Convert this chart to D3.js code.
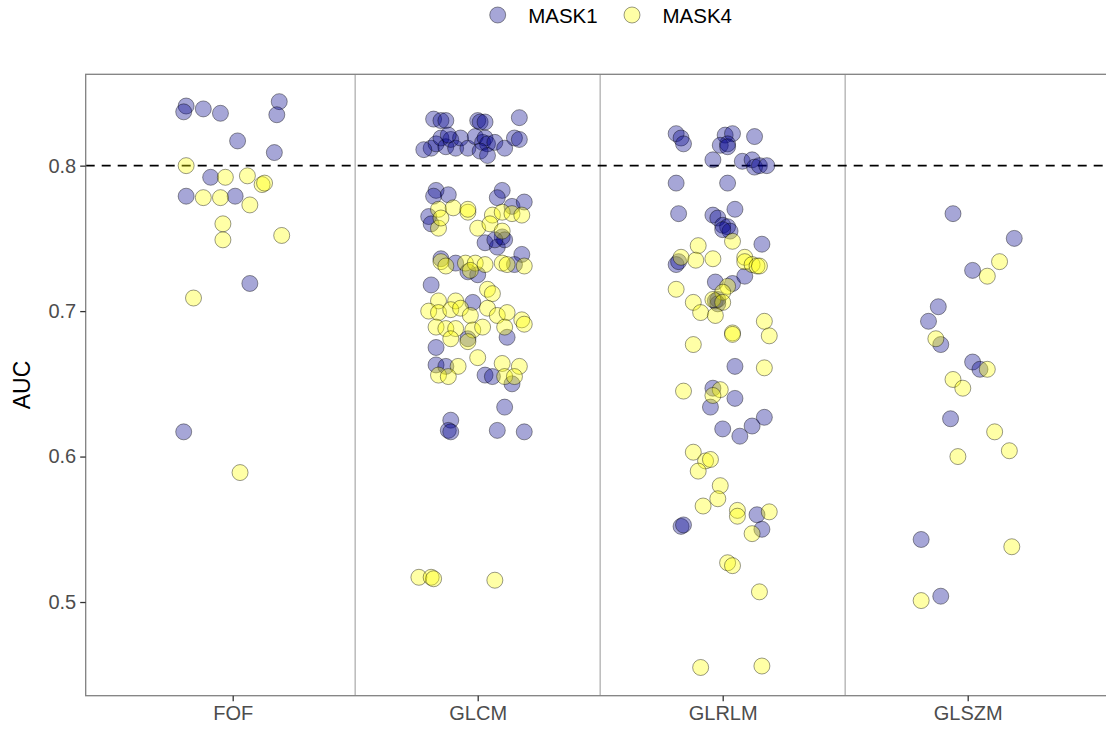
<!DOCTYPE html>
<html>
<head>
<meta charset="utf-8">
<script src="https://cdn.jsdelivr.net/npm/d3@7"></script>
<style>
  body { margin: 0; background: #fff; }
  svg { display: block; font-family: "Liberation Sans", Arial, sans-serif; }
</style>
</head>
<body>
<svg id="chart" width="1106" height="732"></svg>
<script>
// categories and groups
var categories = ["FOF", "GLCM", "GLRLM", "GLSZM"];
var masks = ["MASK1", "MASK4"];
var yTicks = [0.5, 0.6, 0.7, 0.8];
var threshold = 0.8;

// each point: [jitter (in category units), AUC]
var fofMask1 = [[-0.19,0.841],[-0.20,0.837],[-0.12,0.839],[-0.05,0.836],[0.19,0.844],[0.18,0.835],
  [0.02,0.817],[0.17,0.809],[-0.09,0.792],[-0.19,0.779],[0.01,0.779],[0.07,0.719],[-0.20,0.617]];
var fofMask4 = [[-0.19,0.800],[-0.03,0.792],[0.06,0.793],[0.12,0.787],[0.13,0.788],[-0.12,0.778],
  [-0.05,0.778],[0.07,0.773],[-0.04,0.760],[-0.04,0.749],[0.20,0.752],[-0.16,0.709],[0.03,0.589]];

var glcmMask1 = [[-0.18,0.832],[-0.15,0.831],[-0.13,0.831],[0.00,0.831],[0.01,0.830],[0.03,0.830],
  [0.17,0.833],[-0.19,0.812],[-0.17,0.815],[-0.15,0.819],[-0.13,0.813],[-0.11,0.818],[-0.09,0.812],
  [-0.07,0.819],[-0.04,0.812],[-0.01,0.820],[0.02,0.816],[0.03,0.819],[0.04,0.815],[0.01,0.810],
  [0.04,0.807],[0.07,0.816],[0.11,0.812],[0.15,0.819],[0.17,0.818],[-0.12,0.821],[-0.22,0.811],
  [-0.17,0.783],[-0.12,0.780],[-0.18,0.779],[-0.20,0.765],[-0.19,0.760],[0.10,0.783],[0.08,0.778],
  [0.14,0.772],[0.19,0.775],[0.03,0.747],[0.08,0.744],[0.10,0.751],[0.11,0.749],[0.07,0.749],
  [-0.15,0.736],[0.18,0.739],[-0.19,0.718],[-0.09,0.733],[0.00,0.725],[-0.04,0.727],[0.15,0.732],
  [-0.17,0.675],[-0.17,0.663],[-0.13,0.662],[0.03,0.656],[0.06,0.655],[0.14,0.650],[0.11,0.634],
  [-0.11,0.625],[-0.12,0.618],[-0.11,0.617],[0.08,0.618],[0.19,0.617],[-0.04,0.681],[0.12,0.682],
  [-0.02,0.706]];
var glcmMask4 = [[-0.16,0.770],[-0.10,0.771],[-0.04,0.768],[-0.04,0.770],[-0.16,0.757],[-0.15,0.764],
  [0.00,0.757],[0.06,0.766],[0.10,0.768],[0.14,0.767],[0.18,0.766],[0.05,0.760],[0.10,0.755],
  [-0.15,0.734],[-0.13,0.731],[-0.05,0.733],[-0.01,0.733],[0.03,0.732],[0.10,0.733],[0.12,0.732],
  [0.19,0.731],[-0.03,0.728],[0.04,0.715],[0.06,0.712],[-0.16,0.707],[-0.09,0.707],
  [-0.20,0.700],[-0.16,0.699],[-0.11,0.701],[-0.07,0.702],[-0.03,0.697],[0.04,0.702],[0.08,0.697],
  [0.12,0.699],[0.18,0.694],[0.19,0.691],[-0.17,0.689],[-0.13,0.688],[-0.09,0.688],[-0.02,0.687],
  [0.02,0.689],[0.11,0.689],[-0.11,0.681],[-0.04,0.679],[0.00,0.668],[-0.08,0.662],[-0.16,0.656],
  [-0.12,0.655],[0.10,0.664],[0.17,0.662],[0.11,0.655],[0.15,0.655],
  [-0.24,0.517],[-0.19,0.517],[-0.18,0.516],[0.07,0.515]];

var glrlmMask1 = [[-0.19,0.822],[-0.17,0.819],[-0.16,0.815],[0.01,0.821],[0.04,0.822],[-0.01,0.814],
  [0.02,0.815],[0.02,0.813],[0.13,0.820],[-0.04,0.804],[0.08,0.803],[0.12,0.804],[0.13,0.799],
  [0.15,0.800],[0.18,0.800],[-0.19,0.788],[0.02,0.788],[-0.18,0.767],[-0.04,0.766],[-0.02,0.764],
  [0.05,0.770],[0.00,0.759],[0.02,0.758],[0.03,0.755],[0.00,0.756],[0.16,0.746],[-0.19,0.732],
  [-0.18,0.734],[-0.03,0.720],[0.04,0.719],[0.09,0.724],[-0.03,0.707],[-0.02,0.708],[-0.02,0.705],
  [0.05,0.662],[-0.04,0.647],[-0.05,0.634],[0.05,0.640],[0.00,0.619],[0.07,0.614],[0.12,0.621],
  [0.17,0.627],[-0.17,0.552],[-0.16,0.553],[0.14,0.560],[0.16,0.550]];
var glrlmMask4 = [[0.04,0.748],[-0.10,0.745],[-0.17,0.737],[-0.11,0.735],[-0.04,0.736],[0.09,0.737],
  [0.09,0.734],[0.12,0.732],[0.14,0.731],[0.15,0.731],[-0.19,0.715],[0.02,0.717],[0.00,0.713],
  [-0.12,0.706],[-0.09,0.699],[-0.04,0.708],[0.00,0.706],[-0.03,0.697],[0.04,0.685],[0.04,0.684],
  [0.17,0.693],[0.19,0.683],[-0.12,0.677],[0.17,0.661],[-0.16,0.645],[-0.01,0.646],[-0.04,0.642],
  [-0.12,0.603],[-0.07,0.597],[-0.05,0.598],[-0.10,0.590],[-0.01,0.580],[-0.02,0.571],[-0.08,0.566],
  [0.06,0.563],[0.06,0.559],[0.19,0.562],[0.12,0.547],[0.02,0.527],[0.04,0.525],[0.15,0.507],
  [-0.09,0.455],[0.16,0.456]];

var glszmMask1 = [[-0.06,0.767],[0.19,0.750],[0.02,0.728],[-0.12,0.703],[-0.16,0.693],[-0.11,0.677],
  [0.02,0.665],[0.05,0.660],[-0.07,0.626],[-0.19,0.543],[-0.11,0.504]];
var glszmMask4 = [[0.13,0.734],[0.08,0.724],[-0.13,0.681],[0.08,0.660],[-0.06,0.653],[-0.02,0.647],
  [0.11,0.617],[-0.04,0.600],[0.17,0.604],[0.18,0.538],[-0.19,0.501]];

var groups = [
  { cat: "FOF", mask: "MASK1", pts: fofMask1 }, { cat: "GLCM", mask: "MASK1", pts: glcmMask1 },
  { cat: "GLRLM", mask: "MASK1", pts: glrlmMask1 }, { cat: "GLSZM", mask: "MASK1", pts: glszmMask1 },
  { cat: "FOF", mask: "MASK4", pts: fofMask4 }, { cat: "GLCM", mask: "MASK4", pts: glcmMask4 },
  { cat: "GLRLM", mask: "MASK4", pts: glrlmMask4 }, { cat: "GLSZM", mask: "MASK4", pts: glszmMask4 }
];

var fills = { MASK1: "#00008b", MASK4: "#ffff00" };

var svg = d3.select("#chart");
var pLeft = 85.7, pRight = 1114.7, pTop = 74.3, pBottom = 695.7;

// discrete axis with ggplot-like 0.6 expansion: positions 1..4 over [0.4, 4.6]
var x = d3.scaleLinear().domain([0.4, 4.6]).range([pLeft, pRight]);
var y = d3.scaleLinear().domain([0.4356, 0.8628]).range([pBottom, pTop]);

var defs = svg.append("defs");
defs.append("clipPath").attr("id", "panel")
  .append("rect").attr("x", pLeft).attr("y", pTop).attr("width", pRight - pLeft).attr("height", pBottom - pTop);

var panel = svg.append("g").attr("clip-path", "url(#panel)");

// separators between categories
panel.selectAll("line.sep").data([1.5, 2.5, 3.5]).enter().append("line")
  .attr("class", "sep")
  .attr("x1", function (d) { return x(d); }).attr("x2", function (d) { return x(d); })
  .attr("y1", pTop).attr("y2", pBottom)
  .attr("stroke", "#bebebe").attr("stroke-width", 1.6);

// threshold line
panel.append("line")
  .attr("x1", pLeft).attr("x2", pRight)
  .attr("y1", y(threshold)).attr("y2", y(threshold))
  .attr("stroke", "#000").attr("stroke-width", 1.8)
  .attr("stroke-dasharray", "9,7");

// points
groups.forEach(function (g) {
  var ci = categories.indexOf(g.cat) + 1;
  panel.selectAll(null).data(g.pts).enter().append("circle")
    .attr("cx", function (d) { return x(ci + d[0]); })
    .attr("cy", function (d) { return y(d[1]); })
    .attr("r", 8)
    .attr("fill", fills[g.mask]).attr("fill-opacity", 0.35)
    .attr("stroke", "#000").attr("stroke-opacity", 0.4).attr("stroke-width", 1);
});

// panel border
svg.append("rect")
  .attr("x", pLeft).attr("y", pTop).attr("width", pRight - pLeft).attr("height", pBottom - pTop)
  .attr("fill", "none").attr("stroke", "#808080").attr("stroke-width", 1.3);

// y axis
var yAxis = svg.append("g").attr("transform", "translate(" + pLeft + ",0)")
  .call(d3.axisLeft(y).tickValues(yTicks).tickFormat(d3.format(".1f")).tickSize(5.5).tickPadding(4));
yAxis.select(".domain").remove();
yAxis.selectAll(".tick line").attr("stroke", "#333").attr("stroke-width", 1.3);
yAxis.selectAll(".tick text").attr("fill", "#4d4d4d").style("font-size", "20px")
  .style("font-family", "Liberation Sans, Arial, sans-serif");

// x axis
var xAxis = svg.append("g").attr("transform", "translate(0," + pBottom + ")")
  .call(d3.axisBottom(x).tickValues([1, 2, 3, 4])
    .tickFormat(function (d) { return categories[d - 1]; }).tickSize(5.5).tickPadding(5));
xAxis.select(".domain").remove();
xAxis.selectAll(".tick line").attr("stroke", "#333").attr("stroke-width", 1.3);
xAxis.selectAll(".tick text").attr("fill", "#4d4d4d").style("font-size", "20px")
  .style("font-family", "Liberation Sans, Arial, sans-serif");

// y title
svg.append("text")
  .attr("transform", "translate(30," + ((pTop + pBottom) / 2) + ") rotate(-90)")
  .attr("text-anchor", "middle")
  .style("font-size", "23px").attr("fill", "#000")
  .text("AUC");

// legend
var legendX = [497.7, 632];
masks.forEach(function (m, i) {
  svg.append("circle").attr("cx", legendX[i]).attr("cy", 15).attr("r", 8)
    .attr("fill", fills[m]).attr("fill-opacity", 0.35)
    .attr("stroke", "#000").attr("stroke-opacity", 0.4).attr("stroke-width", 1);
  svg.append("text").attr("x", legendX[i] + 30.5).attr("y", 22.5)
    .style("font-size", "20.5px").attr("fill", "#000").text(m);
});
</script>
</body>
</html>
